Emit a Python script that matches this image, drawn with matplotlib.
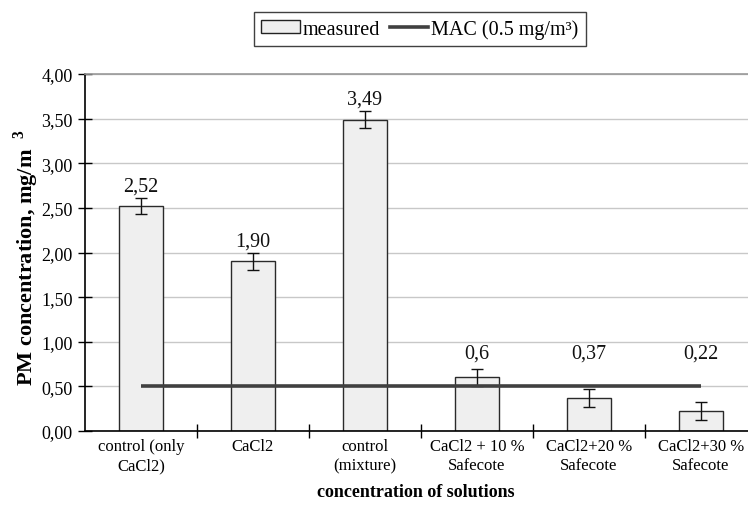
import matplotlib
matplotlib.use("Agg")
import matplotlib.pyplot as plt
import numpy as np
from matplotlib.patches import Patch
from matplotlib.lines import Line2D

categories = ["control (only\nCaCl2)", "CaCl2", "control\n(mixture)",
              "CaCl2 + 10 %\nSafecote", "CaCl2+20 %\nSafecote", "CaCl2+30 %\nSafecote"]
values = [2.52, 1.90, 3.49, 0.60, 0.37, 0.22]
value_labels = ["2,52", "1,90", "3,49", "0,6", "0,37", "0,22"]
errors = [0.09, 0.1, 0.1, 0.1, 0.1, 0.1]
mac_value = 0.5
yticks = [0.0, 0.5, 1.0, 1.5, 2.0, 2.5, 3.0, 3.5, 4.0]
ytick_labels = ["0,00", "0,50", "1,00", "1,50", "2,00", "2,50", "3,00", "3,50", "4,00"]

plt.rcParams['font.family'] = ['Liberation Serif', 'DejaVu Serif']
plt.rcParams['mathtext.fontset'] = 'custom'
plt.rcParams['mathtext.rm'] = 'Liberation Serif'
plt.rcParams['mathtext.bf'] = 'Liberation Serif:bold'

fig = plt.figure(figsize=(7.48, 5.06), dpi=100)
ax = fig.add_axes([85/748, 1-432/506, (757-85)/748, (432-75)/506])

x = np.arange(len(values))
ax.set_axisbelow(True)
ax.yaxis.grid(True, color='#c8c8c8', linewidth=1.0)
ax.bar(x, values, width=0.40, color='#efefef', edgecolor='#2a2a2a', linewidth=1.0, zorder=2)
ax.errorbar(x, values, yerr=errors, fmt='none', ecolor='#111111', elinewidth=1.0,
            capsize=4.5, capthick=1.0, zorder=3)
ax.plot([x[0], x[-1]], [mac_value, mac_value], color='#404040', linewidth=2.6,
        zorder=4, solid_capstyle='butt')

for xi, v, e, lab in zip(x, values, errors, value_labels):
    ax.text(xi, max(v + e + 0.08, 0.82), lab, ha='center', va='baseline',
            fontsize=14.5, color='#111111')

ax.set_xlim(-0.5, len(values) - 0.5)
ax.set_ylim(0, 4.0)
ax.set_yticks(yticks)
ax.set_yticklabels(ytick_labels, fontsize=13)
ax.set_xticks(x[:-1] + 0.5)
ax.set_xticklabels([])
ax.set_xticks(x, minor=True)
ax.set_xticklabels(categories, minor=True, fontsize=12, linespacing=1.25)
ax.tick_params(axis='x', which='minor', length=0, pad=5)
ax.tick_params(axis='x', which='major', direction='inout', length=10, width=1)
ax.tick_params(axis='y', direction='inout', length=10, width=1, pad=4)
ax.spines['right'].set_visible(False)
ax.spines['top'].set_color('#999999')
ax.spines['top'].set_linewidth(1.2)
ax.spines['left'].set_linewidth(1.2)
ax.spines['bottom'].set_linewidth(1.2)

ax.set_xlabel("concentration of solutions", fontsize=13, fontweight='bold')
ax.xaxis.set_label_coords(331/672, -0.145)
ax.set_ylabel(r"PM concentration, mg/m  $^{\mathbf{3}}$", fontsize=16, fontweight='bold')
ax.yaxis.set_label_coords(-0.066, 0.49)

handles = [Patch(facecolor='#efefef', edgecolor='#222222', linewidth=1.0),
           Line2D([0], [0], color='#404040', linewidth=2.6)]
leg = fig.legend(handles, ["measured", "MAC (0.5 mg/m³)"], loc='center',
                 bbox_to_anchor=(420/748, 1-30/506), ncol=2, fontsize=14.5,
                 frameon=True, fancybox=False, edgecolor='#111111',
                 handlelength=1.9, handletextpad=0.15, columnspacing=0.5,
                 borderpad=0.35, handleheight=0.6)
leg.get_frame().set_linewidth(1.0)

fig.savefig("out.png", dpi=100)
